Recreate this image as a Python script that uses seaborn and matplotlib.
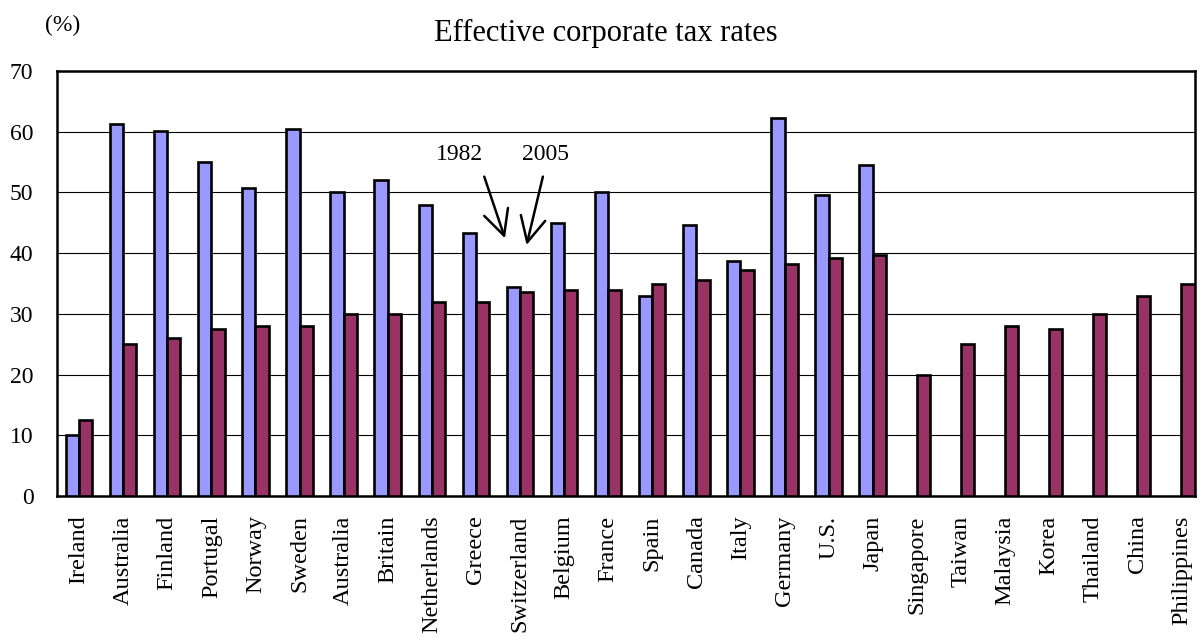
import numpy as np
import pandas as pd
import matplotlib
matplotlib.use("Agg")
import matplotlib.pyplot as plt
import seaborn as sns

# Effective corporate tax rates (%), 1982 vs 2005
countries = ["Ireland", "Australia", "Finland", "Portugal", "Norway", "Sweden",
             "Australia", "Britain", "Netherlands", "Greece", "Switzerland",
             "Belgium", "France", "Spain", "Canada", "Italy", "Germany", "U.S.",
             "Japan", "Singapore", "Taiwan", "Malaysia", "Korea", "Thailand",
             "China", "Philippines"]
rate_1982 = [10.0, 61.2, 60.2, 55.0, 50.8, 60.4, 50.0, 52.0, 48.0, 43.3, 34.5,
             44.9, 50.0, 32.9, 44.7, 38.7, 62.2, 49.5, 54.6,
             np.nan, np.nan, np.nan, np.nan, np.nan, np.nan, np.nan]
rate_2005 = [12.5, 25.0, 26.0, 27.5, 28.0, 28.0, 30.0, 30.0, 32.0, 32.0, 33.6,
             34.0, 34.0, 35.0, 35.5, 37.2, 38.2, 39.2, 39.7,
             20.0, 25.0, 28.0, 27.5, 30.0, 33.0, 35.0]
years = ["1982", "2005"]
yticks = [0, 10, 20, 30, 40, 50, 60, 70]

sns.set_theme(style="white")
plt.rcParams["font.family"] = ["Liberation Serif", "DejaVu Serif"]
plt.rcParams["text.color"] = "black"
plt.rcParams["xtick.color"] = "black"
plt.rcParams["ytick.color"] = "black"

slot = np.arange(len(countries))
df = pd.DataFrame({"slot": slot, "1982": rate_1982, "2005": rate_2005})
long = df.melt(id_vars="slot", value_vars=years, var_name="year", value_name="rate")

fig = plt.figure(figsize=(12.03, 6.37), dpi=100)
ax = fig.add_axes([57 / 1203, 1 - 496 / 637, (1195 - 57) / 1203, (496 - 71) / 637])

sns.barplot(data=long, x="slot", y="rate", hue="year", hue_order=years,
            palette={"1982": "#9999FF", "2005": "#993366"}, saturation=1,
            width=0.6, dodge=True, edgecolor="black", linewidth=1.9,
            errorbar=None, legend=False, ax=ax, zorder=3)

ax.set_xlim(-0.5, 25.31)
ax.set_ylim(0, 70)
ax.set_yticks(yticks)
ax.set_yticklabels([str(t) for t in yticks], fontsize=17)
ax.yaxis.grid(True, color="black", linewidth=0.8, zorder=0)
ax.set_axisbelow(True)
ax.set_xticks(slot)
ax.set_xticklabels(countries, rotation=90, fontsize=17.5)
ax.tick_params(axis="y", length=0, pad=17)
ax.tick_params(axis="x", length=0, pad=14)
ax.set_xlabel("")
ax.set_ylabel("")
for s in ax.spines.values():
    s.set_visible(True)
    s.set_color("black")
    s.set_linewidth(1.8)

# year callouts with arrows
ax.text(8.63, 56.3, "1982", fontsize=17, ha="center", va="center")
ax.text(10.57, 56.3, "2005", fontsize=17, ha="center", va="center")
arrow = dict(arrowstyle="->,head_length=0.6,head_width=0.3", lw=1.8,
             color="black", shrinkA=0, shrinkB=0, mutation_scale=30)
ax.annotate("", xy=(9.66, 42.45), xytext=(9.19, 52.6), arrowprops=arrow)
ax.annotate("", xy=(10.15, 41.34), xytext=(10.52, 52.6), arrowprops=arrow)

fig.text(0.504, 1 - 33 / 637, "Effective corporate tax rates", fontsize=22,
         ha="center", va="center")
fig.text(63 / 1203, 1 - 25 / 637, "(%)", fontsize=17, ha="center", va="center")

fig.savefig("out.png", dpi=100, facecolor="white")
